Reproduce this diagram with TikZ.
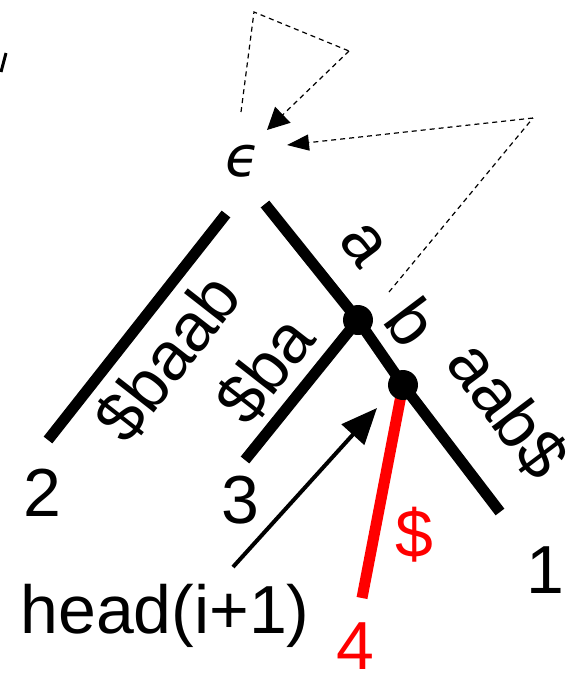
\documentclass[tikz,border=0pt]{standalone}
\usepackage{fontspec}
\setmainfont{Liberation Sans}
\newfontfamily\epsfont{DejaVu Sans}
\usetikzlibrary{arrows.meta,positioning}
\definecolor{leafred}{HTML}{FF0000}
\tikzset{edge/.style={line width=5.5pt},dot/.style={circle,fill=black,inner sep=0pt,minimum size=15pt},lbl/.style={font=\fontsize{34}{40}\selectfont,inner sep=0pt},elbl/.style={lbl,rotate=#1},hint/.style={dash pattern=on 2.5pt off 2pt,line width=0.6pt},ptr/.style={line width=2pt,-{Triangle[length=18pt,width=15pt]}}}

\begin{document}
\begin{tikzpicture}[x=0.5pt,y=-0.5pt]
\useasboundingbox (0,0) rectangle (577,677);
% tree points
\coordinate (l0) at (226,214);\coordinate (r0) at (265,204);\coordinate (u) at (358,320);\coordinate (v) at (403,385);
\coordinate (e2) at (48,440);\coordinate (e3) at (245,460);\coordinate (e1) at (500,512);\coordinate (e4) at (362,598);
\draw[edge](l0)--(e2);\draw[edge](r0)--(u)--(v)--(e1);\draw[edge](u)--(e3);\draw[edge,leafred](v)--(e4);
\node[dot](ud) at (u){};\node[dot](vd) at (v){};
\node[inner sep=0pt,font=\epsfont\itshape\fontsize{28}{32}\selectfont](eps) at (243,161){ϵ};
\node[lbl](n2) at (42,493){2};\node[lbl](n3) at (240,500){3};\node[lbl](n1) at (545,570){1};\node[lbl,text=leafred](n4) at (355,646){4};
\node[elbl=52](s1) at (168,358){\$baab};\node[elbl=52](s2) at (265,370){\$ba};
\node[elbl=-53](s3) at (363,245){a};\node[elbl=-53](s4) at (412,322){b};\node[elbl=-53](s5) at (508,410){aab\$};
\node[lbl,text=leafred](s6) at (414,535){\$};
% head pointer
\node[lbl](head) at (165,616){head(i+1)};
\coordinate (hs) at (233,567);\coordinate (ht) at (377,408);
\draw[ptr](hs)--(ht);
% suffix link hints
\coordinate (t1a) at (254,12);\coordinate (t1b) at (349,51);\coordinate (t1c) at (241,112);\coordinate (t1t) at (267,130);
\coordinate (t2a) at (533,118);\coordinate (t2c) at (389,292);\coordinate (t2t) at (287,145);
\draw[hint](t1c)--(t1a)--(t1b);\draw[hint,-{Triangle[length=11pt,width=11pt]}](t1b)--(t1t);
\draw[hint](t2c)--(t2a);\draw[hint,-{Triangle[length=11pt,width=8pt]}](t2a)--(t2t);
% cut-off stroke
\coordinate (c0) at (1,72);\coordinate (c1) at (6,53);
\draw[line width=1.5pt](c0)--(c1);
\end{tikzpicture}
\end{document}
